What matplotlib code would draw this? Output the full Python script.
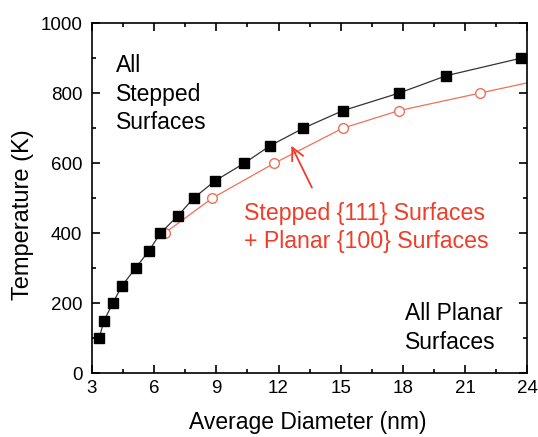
import matplotlib
matplotlib.use("Agg")
import matplotlib.pyplot as plt
from matplotlib.ticker import MultipleLocator

plt.rcParams['font.family'] = ['Liberation Sans', 'DejaVu Sans']

# all stepped surfaces (black squares)
stepped_d = [3.34, 3.58, 4.0, 4.45, 5.1, 5.75, 6.3, 7.15, 7.9, 8.95,
             10.35, 11.6, 13.2, 15.1, 17.8, 20.1, 23.7]
stepped_t = [100, 150, 200, 250, 300, 350, 400, 450, 500, 550,
             600, 650, 700, 750, 800, 850, 900]

# stepped {111} + planar {100} (red open circles)
mixed_d = [6.5, 8.8, 11.8, 15.1, 17.8, 21.7, 25.6]
mixed_t = [400, 500, 600, 700, 750, 800, 850]

red = '#f03c28'
line_red = '#f07058'

fig = plt.figure(figsize=(5.38, 4.37), dpi=100)
ax = fig.add_axes([0.171, 0.146, 0.809, 0.801])

ax.plot(stepped_d, stepped_t, color='#333333', lw=0.9, marker='s', ms=7,
        mfc='black', mec='black', zorder=3)
ax.plot(mixed_d, mixed_t, color=line_red, lw=0.9, marker='o', ms=7,
        mfc='white', mec=line_red, zorder=2)

ax.set_xlim(3, 24)
ax.set_ylim(0, 1000)
ax.xaxis.set_major_locator(MultipleLocator(3))
ax.xaxis.set_minor_locator(MultipleLocator(1.5))
ax.yaxis.set_major_locator(MultipleLocator(200))
ax.yaxis.set_minor_locator(MultipleLocator(100))
ax.tick_params(which='both', direction='in', top=True, right=True,
               labelsize=13.5, width=1.2)
ax.tick_params(which='major', length=6)
ax.tick_params(axis='y', which='major', pad=7)
ax.tick_params(axis='x', which='major', pad=5)
ax.tick_params(which='minor', length=3)
for s in ax.spines.values():
    s.set_linewidth(1.2)

ax.set_xlabel('Average Diameter (nm)', fontsize=16.5)
ax.set_ylabel('Temperature (K)', fontsize=17)
ax.xaxis.set_label_coords(0.495, -0.109)
ax.yaxis.set_label_coords(-0.134, 0.454)

ax.text(4.16, 911, 'All\nStepped\nSurfaces', fontsize=16.5, va='top',
        ha='left', linespacing=1.3)
ax.text(18.1, 203, 'All Planar\nSurfaces', fontsize=16.5, va='top',
        ha='left', linespacing=1.3)
ax.text(10.34, 489, 'Stepped {111} Surfaces\n+ Planar {100} Surfaces',
        fontsize=16.7, va='top', ha='left', color=red, linespacing=1.25)

ax.annotate('', xy=(12.56, 657), xytext=(13.67, 523),
            arrowprops=dict(arrowstyle='->', color=red, lw=1.3,
                            mutation_scale=22))

fig.savefig('out.png', dpi=100)
